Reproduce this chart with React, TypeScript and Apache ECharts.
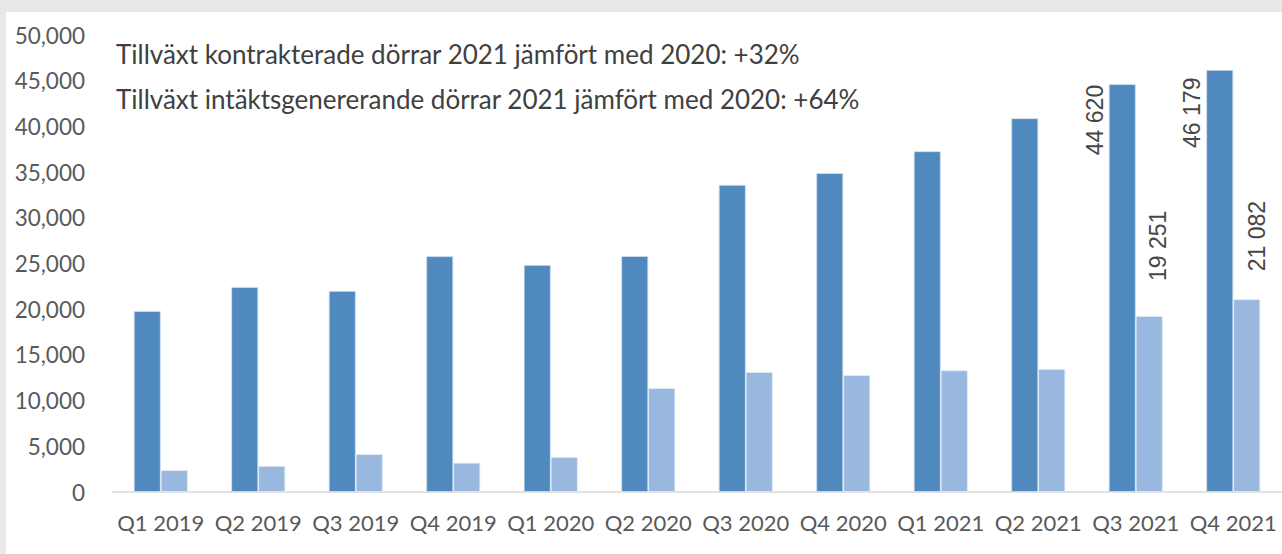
import React, { useEffect, useRef } from "react";
import * as echarts from "echarts";

const categories = [
  "Q1 2019", "Q2 2019", "Q3 2019", "Q4 2019",
  "Q1 2020", "Q2 2020", "Q3 2020", "Q4 2020",
  "Q1 2021", "Q2 2021", "Q3 2021", "Q4 2021",
];
const contracted = [19800, 22430, 22000, 25800, 24840, 25820, 33600, 34900, 37280, 40890, 44620, 46179];
const revenue = [2400, 2850, 4150, 3200, 3830, 11380, 13130, 12800, 13310, 13460, 19251, 21082];
const labeledIndices = [10, 11];
const yMin = 0;
const yMax = 50000;
const yInterval = 5000;
const notes = [
  "Tillväxt kontrakterade dörrar 2021 jämfört med 2020: +32%",
  "Tillväxt intäktsgenererande dörrar 2021 jämfört med 2020: +64%",
];

// label placement (style, not data)
const darkLabelPos: Record<number, number[]> = { 10: [-14, 71], 11: [-14, 78] };
const lightLabelPos: Record<number, number[]> = { 10: [22, -35], 11: [24, -28] };

const spaceGroup = (v: number) => String(v).replace(/\B(?=(\d{3})+(?!\d))/g, " ");
const commaGroup = (v: number) => String(v).replace(/\B(?=(\d{3})+(?!\d))/g, ",");

const labelFont = {
  fontFamily: "Liberation Sans",
  fontSize: 23,
  color: "#474747",
};

function buildData(values: number[], pos: Record<number, number[]>) {
  return values.map((v, i) => {
    if (labeledIndices.indexOf(i) >= 0) {
      return {
        value: v,
        label: {
          show: true,
          position: pos[i],
          rotate: 90,
          align: "left",
          verticalAlign: "middle",
          formatter: (p: any) => spaceGroup(p.value),
          ...labelFont,
        },
      };
    }
    return { value: v };
  });
}

export default function App() {
  const ref = useRef<HTMLDivElement>(null);
  useEffect(() => {
    document.body.style.margin = "0";
    if (!ref.current) return;
    const chart = echarts.init(ref.current, undefined, { renderer: "svg" });
    const textColor = "#595959";
    const font = "Lato";
    chart.setOption({
      animation: false,
      backgroundColor: "#ffffff",
      grid: { left: 106, right: -5, top: 23, bottom: 62, containLabel: false },
      xAxis: {
        type: "category",
        data: categories,
        axisTick: { show: false },
        axisLine: { show: true, lineStyle: { color: "#d9d9d9", width: 1.5 } },
        axisLabel: { color: textColor, fontFamily: font, fontSize: 22, margin: 19, interval: 0 },
      },
      yAxis: {
        type: "value",
        min: yMin,
        max: yMax,
        interval: yInterval,
        axisLine: { show: false },
        axisTick: { show: false },
        splitLine: { show: false },
        axisLabel: {
          color: textColor,
          fontFamily: font,
          fontSize: 22.5,
          margin: 27,
          formatter: (v: number) => commaGroup(v),
        },
      },
      series: [
        {
          type: "bar",
          name: "Kontrakterade dörrar",
          data: buildData(contracted, darkLabelPos),
          barWidth: 27,
          barGap: "0%",
          itemStyle: { color: "#4f89bd", borderColor: "#d4e2f2", borderWidth: 0.8 },
        },
        {
          type: "bar",
          name: "Intäktsgenererande dörrar",
          data: buildData(revenue, lightLabelPos),
          barWidth: 27,
          barGap: "0%",
          itemStyle: { color: "#98b8df", borderColor: "#e3ecf7", borderWidth: 0.8 },
        },
      ],
      graphic: notes.map((t, i) => ({
        type: "text",
        x: 110,
        y: 42 + i * 45,
        silent: true,
        style: {
          text: t,
          fill: "#404040",
          font: `26px ${font}`,
          verticalAlign: "middle",
          align: "left",
        },
      })),
    });
    return () => chart.dispose();
  }, []);
  return (
    <div style={{ width: 1282, height: 554, background: "#e8e8e8", position: "relative", overflow: "hidden" }}>
      <div
        ref={ref}
        style={{ position: "absolute", left: 6, top: 12, width: 1276, height: 542 }}
      />
    </div>
  );
}
